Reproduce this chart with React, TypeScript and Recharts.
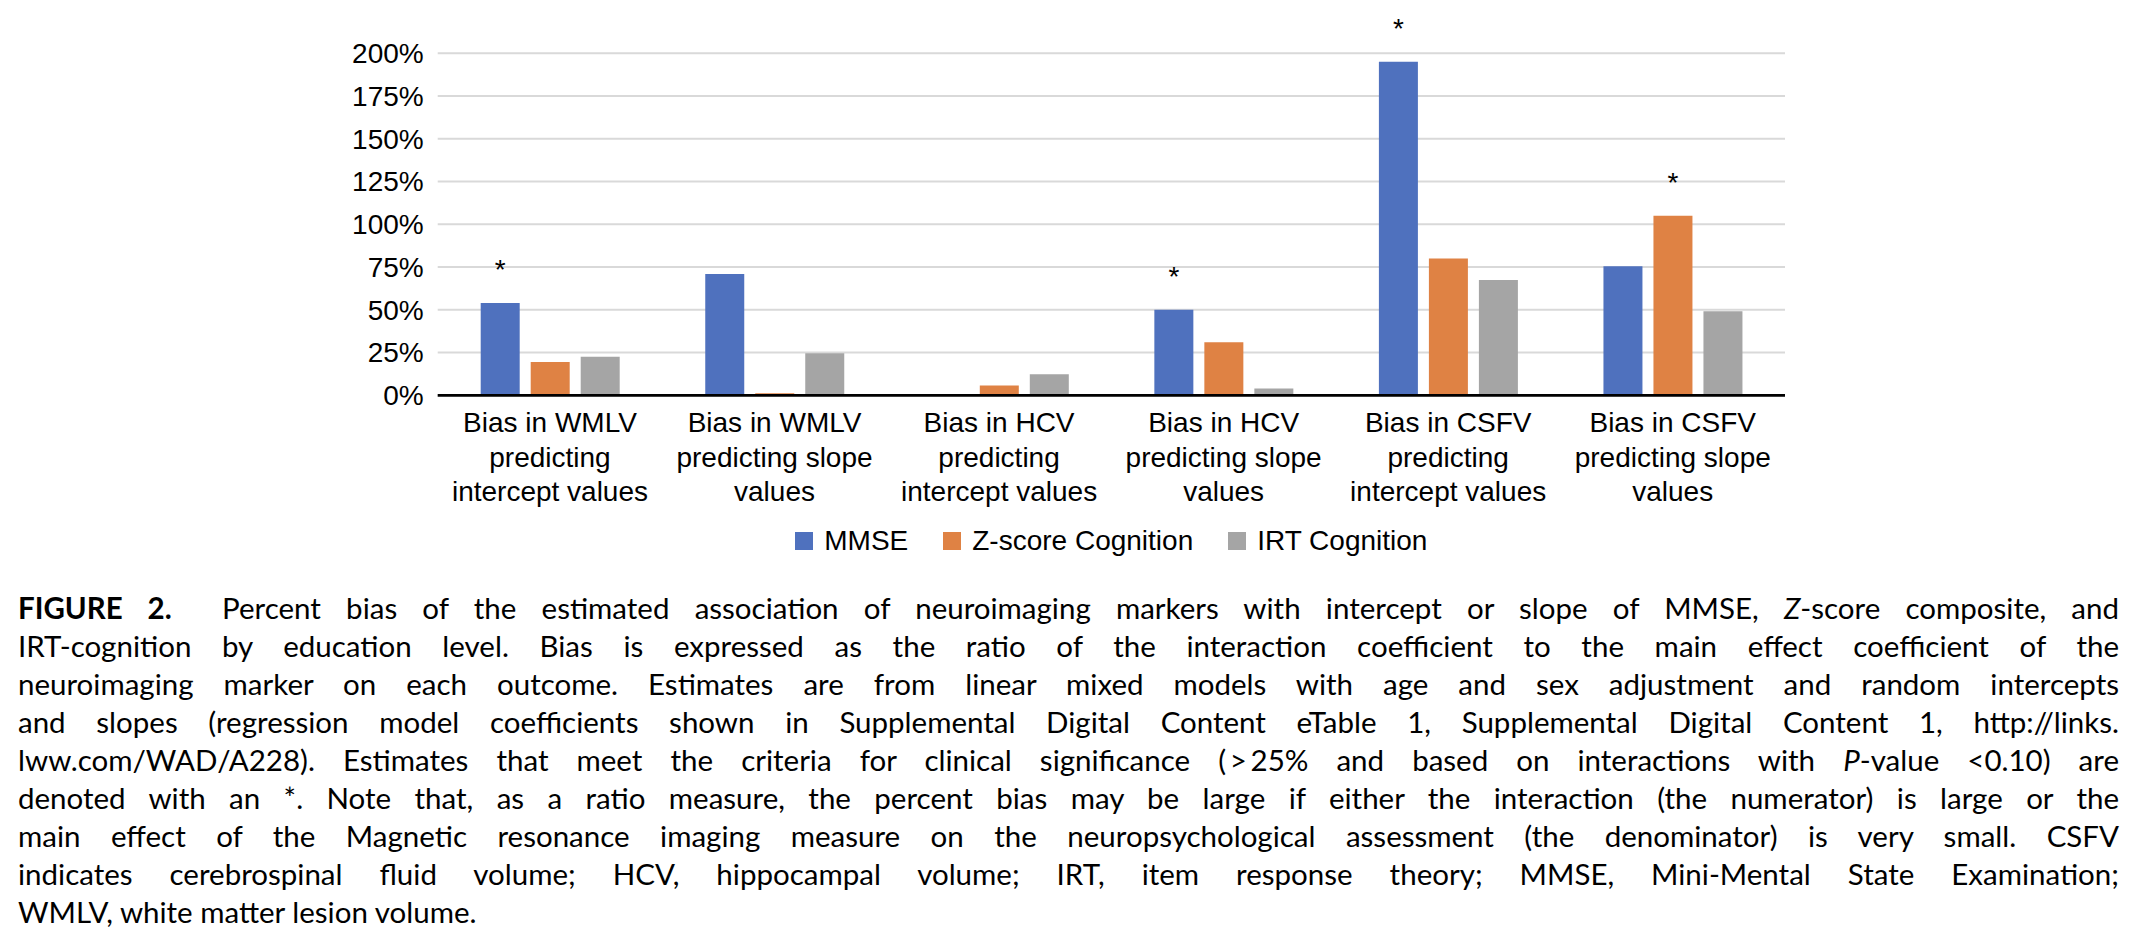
import React from 'react'
import { BarChart, Bar, XAxis, YAxis, CartesianGrid, Legend, LabelList } from 'recharts'

const categories = [
  ['Bias in WMLV', 'predicting', 'intercept values'],
  ['Bias in WMLV', 'predicting slope', 'values'],
  ['Bias in HCV', 'predicting', 'intercept values'],
  ['Bias in HCV', 'predicting slope', 'values'],
  ['Bias in CSFV', 'predicting', 'intercept values'],
  ['Bias in CSFV', 'predicting slope', 'values'],
]

const mmse = [54, 71, 0.3, 50, 195, 75.5]
const zscore = [19.5, 1.2, 5.8, 31, 80, 105]
const irt = [22.6, 24.6, 12.3, 4, 67.5, 49.2]

// asterisk = clinically significant
const mmseSig = [true, false, false, true, true, false]
const zscoreSig = [false, false, false, false, false, true]
const irtSig = [false, false, false, false, false, false]

const yTicks = [0, 25, 50, 75, 100, 125, 150, 175, 200]

const data = categories.map((lines, i) => ({
  name: lines.join(' '),
  mmse: mmse[i],
  zscore: zscore[i],
  irt: irt[i],
  mmseSig: mmseSig[i] ? '*' : '',
  zscoreSig: zscoreSig[i] ? '*' : '',
  irtSig: irtSig[i] ? '*' : '',
}))

const FONT = '"Liberation Sans", Arial, Helvetica, sans-serif'
const series = [
  { key: 'mmse', name: 'MMSE', color: '#4F71BE' },
  { key: 'zscore', name: 'Z-score Cognition', color: '#DF8244' },
  { key: 'irt', name: 'IRT Cognition', color: '#A5A5A5' },
]

const CategoryTick = (props: any) => {
  const { x, y, index } = props
  const lines = categories[index] || []
  return (
    <text x={x} y={y + 29} textAnchor="middle" fontFamily={FONT} fontSize={28} fill="#000">
      {lines.map((l, i) => (
        <tspan key={i} x={x} dy={i === 0 ? 0 : 34.2}>{l}</tspan>
      ))}
    </text>
  )
}

const Star = (props: any) => {
  const { x, y, width, value } = props
  if (!value) return null
  return (
    <text x={x + width / 2} y={y - 24} textAnchor="middle" fontFamily={FONT} fontSize={28} fill="#000">
      {value}
    </text>
  )
}

// legend in series order (recharts sorts its payload by name)
const LegendContent = () => (
  <div style={{ display: 'flex', justifyContent: 'center', alignItems: 'center', gap: 35, fontFamily: FONT, fontSize: 28, color: '#000' }}>
    {series.map((s) => (
      <div key={s.key} style={{ display: 'flex', alignItems: 'center' }}>
        <span style={{ display: 'inline-block', width: 18, height: 18, background: s.color, marginRight: 11 }} />
        <span>{s.name}</span>
      </div>
    ))}
  </div>
)

const captionLines: React.ReactNode[] = [
  <><b style={{ fontWeight: 700 }}>FIGURE 2.</b>&nbsp; Percent bias of the estimated association of neuroimaging markers with intercept or slope of MMSE, <i>Z</i>-score composite, and</>,
  <>IRT-cognition by education level. Bias is expressed as the ratio of the interaction coefficient to the main effect coefficient of the</>,
  <>neuroimaging marker on each outcome. Estimates are from linear mixed models with age and sex adjustment and random intercepts</>,
  <>and slopes (regression model coefficients shown in Supplemental Digital Content eTable 1, Supplemental Digital Content 1, http://links.</>,
  <>lww.com/WAD/A228). Estimates that meet the criteria for clinical significance (&thinsp;&gt;&thinsp;25% and based on interactions with <i>P</i>-value &lt;0.10) are</>,
  <>denoted with an *. Note that, as a ratio measure, the percent bias may be large if either the interaction (the numerator) is large or the</>,
  <>main effect of the Magnetic resonance imaging measure on the neuropsychological assessment (the denominator) is very small. CSFV</>,
  <>indicates cerebrospinal fluid volume; HCV, hippocampal volume; IRT, item response theory; MMSE, Mini-Mental State Examination;</>,
  <>WMLV, white matter lesion volume.</>,
]

export default function App() {
  return (
    <div style={{ position: 'relative', width: 2136, height: 946, background: '#fff', overflow: 'hidden' }}>
      <style>{'body{margin:0}'}</style>
      <div style={{ position: 'absolute', left: 0, top: 0 }}>
        <BarChart
          width={2136}
          height={580}
          data={data}
          margin={{ top: 53.3, right: 351, left: 0, bottom: 64.7 }}
          barSize={39}
          barGap={11}
        >
          <CartesianGrid vertical={false} stroke="#D9D9D9" strokeWidth={2} />
          <XAxis
            dataKey="name"
            interval={0}
            height={120}
            tickLine={false}
            axisLine={{ stroke: '#000', strokeWidth: 2.7 }}
            tick={<CategoryTick />}
          />
          <YAxis
            width={437.7}
            domain={[0, 200]}
            ticks={yTicks}
            axisLine={false}
            tickLine={false}
            tickMargin={8}
            tickFormatter={(v: number) => `${v}%`}
            tick={{ fill: '#000', fontSize: 28, fontFamily: FONT }}
          />
          <Legend
            verticalAlign="middle"
            layout="horizontal"
            wrapperStyle={{ top: 525, left: 437.7, width: 1347.3 }}
            content={<LegendContent />}
          />
          {series.map((s) => (
            <Bar key={s.key} dataKey={s.key} name={s.name} fill={s.color} isAnimationActive={false}>
              <LabelList dataKey={`${s.key}Sig`} content={<Star />} />
            </Bar>
          ))}
        </BarChart>
      </div>
      <div
        style={{
          position: 'absolute',
          left: 18,
          top: 589,
          width: 2101,
          fontFamily: 'Lato, "Open Sans", sans-serif',
          fontSize: 29.5,
          lineHeight: '38px',
          color: '#000',
        }}
      >
        {captionLines.map((l, i) => (
          <div
            key={i}
            style={{
              whiteSpace: 'nowrap',
              textAlign: i === captionLines.length - 1 ? 'left' : 'justify',
              textAlignLast: i === captionLines.length - 1 ? 'left' : 'justify',
            }}
          >
            {l}
          </div>
        ))}
      </div>
    </div>
  )
}
